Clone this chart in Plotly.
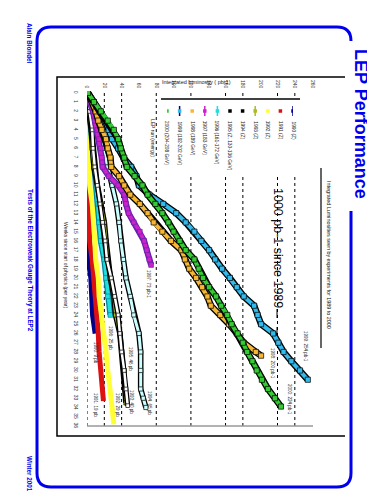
import plotly.graph_objects as go

W, H = 375, 500

def px(x):
    return x / W

def py(y):
    return 1 - y / H

# ---------------- data ----------------
years = ["2000", "1999", "1998", "1997", "1996", "1995", "1994", "1993", "1992", "1991", "1990"]
legend_labels = ["2000 (204-208 GeV)", "1999 (192-202 GeV)", "1998 (189 GeV)", "1997 (183 GeV)",
                 "1996 (161-172 GeV)", "1995 (Z, 130-136 GeV)", "1994 (Z)", "1993 (Z)",
                 "1992 (Z)", "1991 (Z)", "1990 (Z)"]

weeks_2000 = list(range(0, 34)) + [33.9]
lumi_2000 = [1, 8, 16, 24, 31, 36, 39, 43, 46, 55, 64, 70, 79, 87, 94, 100, 107, 114, 124, 129,
             134, 141, 149, 155, 162, 167, 174, 180, 185, 191, 196, 202, 209, 217, 224]
weeks_1999 = list(range(0, 32))
lumi_1999 = [1, 8, 15, 21, 25, 29, 36, 42, 51, 57, 60, 72, 88, 103, 114, 124, 132, 141, 148, 156,
             165, 173, 181, 193, 197, 201, 215, 221, 227, 236, 246, 255]
weeks_1998 = list(range(0, 29)) + [28.4]
lumi_1998 = [1, 6, 10, 13, 17, 22, 24, 27, 28, 37, 43, 50, 61, 70, 77, 87, 97, 109, 113, 118,
             126, 133, 139, 143, 154, 164, 173, 181, 195, 201]
weeks_1997 = list(range(0, 19)) + [18.6]
lumi_1997 = [1, 3, 7, 9, 12, 14, 16, 17, 18, 25, 36, 43, 45, 48, 54, 61, 66, 69, 72, 74]
weeks_1996 = [0, 2, 4, 6, 8, 10, 12, 14, 16, 18, 20, 22, 24]
lumi_1996 = [1, 3, 5, 7, 8, 10, 13, 14, 16, 20, 22, 24, 27]
weeks_1995 = [0, 2, 4, 6, 8, 10, 12, 14, 16, 18, 20, 22, 24, 26, 28, 30, 32, 33.8]
lumi_1995 = [1, 3, 6, 7, 9, 12, 15, 18, 21, 23, 28, 32, 36, 38, 40, 43, 45, 47]
weeks_1994 = [0, 2, 4, 6, 8, 10, 12, 14, 16, 18, 20, 22, 24, 26, 28, 30, 32, 33, 34]
lumi_1994 = [1, 7, 13, 18, 24, 29, 34, 37, 39, 42, 45, 50, 54, 60, 62, 62, 62, 65, 68]
weeks_1993 = [0, 2, 4, 6, 8, 10, 12, 14, 16, 18, 20, 22, 24, 26, 28, 30, 32, 33.5]
lumi_1993 = [1, 2, 5, 6, 8, 12, 16, 20, 22, 24, 27, 31, 33, 38, 40, 43, 44, 45]
weeks_1992 = [0, 4, 8, 10, 12, 14, 16, 18, 20, 22, 24, 26, 28, 30, 32, 34, 35.8]
lumi_1992 = [0, 1, 2, 3, 6, 8, 9, 10, 13, 14, 17, 20, 22, 24, 27, 29, 31]
weeks_1991 = [4, 8, 12, 16, 18, 20, 22, 24, 26, 28, 30, 32, 33.3]
lumi_1991 = [0, 1, 2, 3, 6, 8, 10, 12, 13, 14, 16, 17, 19]
weeks_1990 = [0, 10, 16, 18, 20, 22, 24, 26]
lumi_1990 = [0, 0.5, 1, 2, 5, 6, 7, 10]

end_labels = ["2000: 224 pb-1", "1999: 254 pb-1", "1998: 200 pb-1", "1997: 73 pb-1", "1996: 25 pb",
              "1995: 46 pb", "1994: 65 pb", "1993: 40 pb", "1992: 29 pb", "1991: 19 pb", "1990: 9 pb"]

lumi_ticks = list(range(0, 261, 20))
week_ticks = list(range(0, 37))
grid_lumi = [0, 20, 40, 80, 120, 160, 180, 220, 240]

# ---------------- styles ----------------
series = {
    "1990": (weeks_1990, lumi_1990, "#000088", None, 6),
    "1991": (weeks_1991, lumi_1991, "#dd1111", None, 5),
    "1992": (weeks_1992, lumi_1992, "#ffff33", None, 5),
    "1993": (weeks_1993, lumi_1993, "#aabb22", "#000000", 3),
    "1994": (weeks_1994, lumi_1994, "#ccffff", "#000000", 3),
    "1995": (weeks_1995, lumi_1995, "#ffffff", "#000000", 2.5),
    "1996": (weeks_1996, lumi_1996, "#22dddd", "#008899", 3.5),
    "1997": (weeks_1997, lumi_1997, "#cc22cc", "#6622aa", 3.5),
    "1998": (weeks_1998, lumi_1998, "#f7b733", "#000000", 4),
    "1999": (weeks_1999, lumi_1999, "#33bbee", "#000000", 4),
    "2000": (weeks_2000, lumi_2000, "#33cc33", "#000000", 4),
}
draw_order = ["1990", "1991", "1992", "1996", "1993", "1995", "1994", "1997", "1998", "1999", "2000"]

fig = go.Figure()
for yr in draw_order:
    wk, lm, col, edge, wd = series[yr]
    if edge:
        fig.add_trace(go.Scatter(x=lm, y=wk, mode="lines", line=dict(color=edge, width=wd + 2.6),
                                 hoverinfo="skip", showlegend=False))
        fig.add_trace(go.Scatter(x=lm, y=wk, mode="lines+markers", line=dict(color=col, width=wd),
                                 marker=dict(symbol="square", size=wd + 1.2, color=col,
                                             line=dict(color=edge, width=0.7)),
                                 name=yr, showlegend=False))
    else:
        fig.add_trace(go.Scatter(x=lm, y=wk, mode="lines", line=dict(color=col, width=wd),
                                 name=yr, showlegend=False))

# custom legend (rotated)
legend_idx = list(range(len(years)))
leg_cols = [series[y][2] for y in years]
leg_line = [False, True, False, True, True, False, False, True, False, False, True]
line_idx = [i for i in legend_idx if leg_line[i]]
fig.add_trace(go.Scatter(x=line_idx, y=[0.5] * len(line_idx), mode="markers", xaxis="x2", yaxis="y2",
                         marker=dict(symbol="line-ns", size=11,
                                     line=dict(width=1.5, color=["#000088" if years[i] in ("1999", "1990") else leg_cols[i] for i in line_idx])),
                         showlegend=False, hoverinfo="skip"))
fig.add_trace(go.Scatter(x=legend_idx, y=[0.5] * len(legend_idx), mode="markers", xaxis="x2", yaxis="y2",
                         marker=dict(symbol="square", size=3.5,
                                     color=["#000000" if c in ("#ffffff", "#ccffff") else c for c in leg_cols],
                                     line=dict(width=0)),
                         showlegend=False, hoverinfo="skip"))

FONT = "Liberation Sans, Arial, sans-serif"
annotations = []
for i, lab in enumerate(legend_labels):
    annotations.append(dict(x=i, xref="x2", y=py(111), yref="paper", text=lab, textangle=90,
                            showarrow=False, xanchor="center", yanchor="top",
                            font=dict(size=4.8, color="#222", family=FONT)))

# end-of-curve labels
end_pos = {"2000": (282, 391), "1999": (298, 338), "1998": (265, 355), "1997": (141, 276),
           "1996": (103, 330), "1995": (123, 351), "1994": (142, 395), "1993": (124, 394),
           "1992": (110, 397), "1991": (88, 397), "1990": (88, 345)}
for yr, lab in zip(years, end_labels):
    x0, y0 = end_pos[yr]
    annotations.append(dict(x=px(x0), y=py(y0), xref="paper", yref="paper", text=lab, textangle=90,
                            showarrow=False, xanchor="center", yanchor="middle",
                            font=dict(size=4.5, color="#222", family=FONT)))

blue = "#0000ee"

def note(xp, yp, text, size, color="#222", angle=90):
    return dict(x=px(xp), y=py(yp), xref="paper", yref="paper", text=text, textangle=angle,
                showarrow=False, xanchor="center", yanchor="middle",
                font=dict(size=size, color=color, family=FONT))

annotations += [
    note(353, 116, "<b>LEP Performance</b>", 18, blue),
    note(22, 35, "<b>Alain Blondel</b>", 6.3, blue),
    note(22, 252, "<b>Tests of the Electroweak Gauge Theory at LEP2</b>", 6.3, blue),
    note(22, 466, "<b>Winter 2001</b>", 6.3, blue),
    note(321, 247, "Integrated Luminosities seen by experiments for 1989 to 2000", 5.4, "#111"),
    note(270, 240, "1000 pb-1 since 1989", 12.5, "#111"),
    note(188, 74, "Integrated luminosity ( pb-1)", 5.5, "#222", 0),
    note(58, 257, "Weeks since start of physics (per year)", 5, "#222"),
    note(145, 130, "LEP run (energy)", 5, "#222"),
]

shapes = []
for g in grid_lumi:
    shapes.append(dict(type="line", xref="x", x0=g, x1=g, yref="y domain", y0=0, y1=0.995,
                       line=dict(color="#000", width=1, dash="dot"), layer="below"))
# legend box
shapes.append(dict(type="rect", xref="paper", yref="paper", x0=px(151), x1=px(294), y0=py(166), y1=py(91),
                   fillcolor="white", line=dict(width=0), layer="below"))
shapes.append(dict(type="line", xref="paper", yref="paper", x0=px(153), x1=px(292), y0=py(91), y1=py(91),
                   line=dict(color="#000", width=1.3)))
# bottom axis line (gray)
shapes.append(dict(type="line", xref="x domain", yref="y domain", x0=0, x1=1, y0=0, y1=0,
                   line=dict(color="#999", width=1.5)))
# chart frame
shapes.append(dict(type="path", xref="paper", yref="paper",
                   path=f"M {px(337)},{py(69)} L {px(49)},{py(69)} L {px(49)},{py(428)} L {px(337)},{py(428)}",
                   line=dict(color="#000", width=1.5)))
# title underline
shapes.append(dict(type="line", xref="paper", yref="paper", x0=px(313), x1=px(313), y0=py(160), y1=py(340),
                   line=dict(color="#000", width=1.2)))
# dashes after 1000 pb-1
shapes.append(dict(type="line", xref="paper", yref="paper", x0=px(269), x1=px(269), y0=py(301), y1=py(328),
                   line=dict(color="#000", width=1, dash="dash")))
# blue rounded border
r = 14
p = (f"M {px(343)},{py(203)} L {px(343)},{py(479 - r)} Q {px(343)},{py(479)} {px(343 - r)},{py(479)} "
     f"L {px(29 + r)},{py(479)} Q {px(29)},{py(479)} {px(29)},{py(479 - r)} "
     f"L {px(29)},{py(19 + r)} Q {px(29)},{py(19)} {px(29 + r)},{py(19)} "
     f"L {px(343 - r)},{py(19)} Q {px(343)},{py(19)} {px(343)},{py(19 + r)}")
shapes.append(dict(type="path", xref="paper", yref="paper", path=p, line=dict(color=blue, width=3)))

fig.update_layout(
    width=W, height=H, margin=dict(l=0, r=0, t=0, b=0, pad=0, autoexpand=False),
    paper_bgcolor="white", plot_bgcolor="rgba(0,0,0,0)",
    xaxis=dict(domain=[px(79), px(305)], range=[0, 261], side="top", tickvals=lumi_ticks,
               ticktext=[str(v) for v in lumi_ticks], tickangle=90, showgrid=False, zeroline=False,
               showline=False, ticks="", automargin=False, ticklabelstandoff=1,
               tickfont=dict(size=5, color="#333", family=FONT), anchor="y"),
    yaxis=dict(domain=[py(418), py(83)], range=[36, -0.2], tickvals=week_ticks,
               ticktext=[str(v) for v in week_ticks], tickangle=90, showgrid=False, zeroline=False,
               showline=False, ticks="", automargin=False, ticklabelstandoff=7,
               tickfont=dict(size=5, color="#333", family=FONT), anchor="x"),
    xaxis2=dict(domain=[px(159), px(285)], range=[0, 10], visible=False, anchor="y2", automargin=False),
    yaxis2=dict(domain=[py(108), py(98)], range=[0, 1], visible=False, anchor="x2", automargin=False),
    annotations=annotations, shapes=shapes, showlegend=False,
)

fig.write_html("out.html")
